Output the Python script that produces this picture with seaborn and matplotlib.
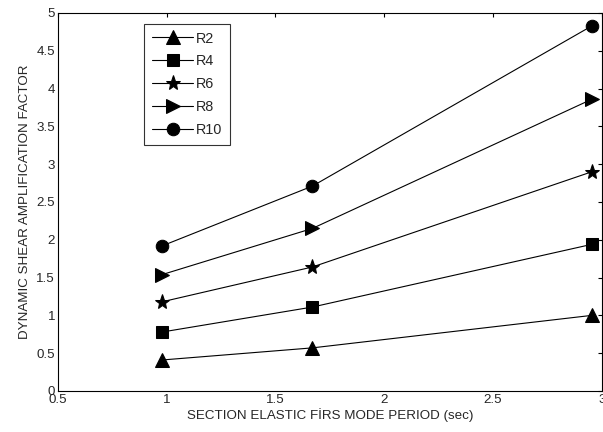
import pandas as pd
import matplotlib
matplotlib.use("Agg")
import matplotlib.pyplot as plt
import seaborn as sns


# ── Data ──────────────────────────────────────────────────────────────────────
period = [0.98, 1.67, 2.955]
series_names = ['R2', 'R4', 'R6', 'R8', 'R10']
r2 = [0.41, 0.57, 1.00]
r4 = [0.78, 1.11, 1.94]
r6 = [1.18, 1.64, 2.90]
r8 = [1.54, 2.15, 3.86]
r10 = [1.92, 2.71, 4.83]
markers = ['^', 's', '*', '>', 'o']

df = pd.DataFrame({
    'period': period * 5,
    'factor': r2 + r4 + r6 + r8 + r10,
    'series': [s for s in series_names for _ in period],
})

# ── Plot ──────────────────────────────────────────────────────────────────────
sns.set_style('white')
plt.rcParams['font.family'] = ['Liberation Sans', 'DejaVu Sans']
fs = 9.6

fig, ax = plt.subplots(figsize=(6.03, 4.32), dpi=100)
fig.subplots_adjust(left=0.096, right=0.998, bottom=0.095, top=0.970)

for name, mk in zip(series_names, markers):
    sub = df[df['series'] == name]
    msize = {'*': 11, '^': 10, '>': 10}.get(mk, 9)
    sns.lineplot(data=sub, x='period', y='factor', ax=ax, color='black',
                 linewidth=0.8, marker=mk, markersize=msize,
                 markeredgecolor='black', markerfacecolor='black',
                 label=name)

ax.set_xlim(0.5, 3)
ax.set_ylim(0, 5)
ax.set_xticks([0.5, 1, 1.5, 2, 2.5, 3])
ax.set_xticklabels(['0.5', '1', '1.5', '2', '2.5', '3'])
ax.set_yticks([0, 0.5, 1, 1.5, 2, 2.5, 3, 3.5, 4, 4.5, 5])
ax.set_yticklabels(['0', '0.5', '1', '1.5', '2', '2.5', '3', '3.5', '4', '4.5', '5'])
ax.tick_params(direction='in', length=3, width=0.8, top=True, right=True,
               labelsize=fs, color='black', pad=2)
for sp in ax.spines.values():
    sp.set_color('black')
    sp.set_linewidth(0.8)

ax.set_xlabel('SECTION ELASTIC FİRS MODE PERIOD (sec)', fontsize=fs, labelpad=2)
ax.set_ylabel('DYNAMIC SHEAR AMPLIFICATION FACTOR', fontsize=fs, labelpad=4)

leg = ax.legend(loc='upper left', bbox_to_anchor=(0.159, 0.970), fontsize=10.4,
                frameon=True, fancybox=False, edgecolor='black',
                handlelength=2.9, handletextpad=0.2, labelspacing=0.62,
                borderpad=0.5, borderaxespad=0)
leg.get_frame().set_linewidth(0.8)

fig.savefig('out.png', dpi=100)
